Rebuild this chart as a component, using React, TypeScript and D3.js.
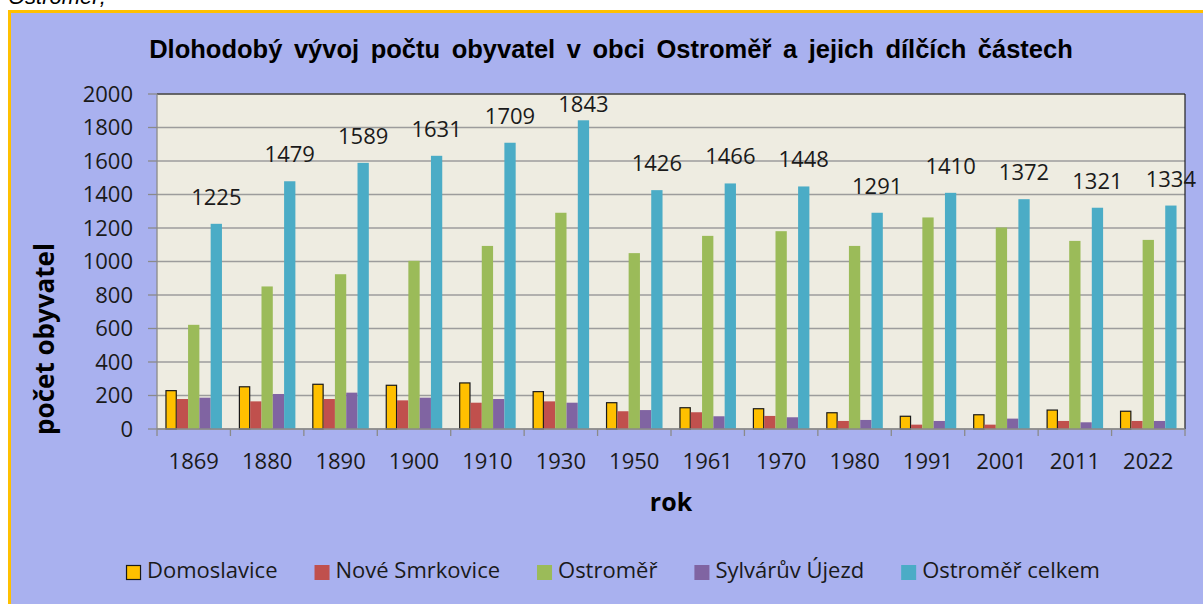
import React from "react";
import * as d3 from "d3";

const years = ["1869","1880","1890","1900","1910","1930","1950","1961","1970","1980","1991","2001","2011","2022"];
const seriesNames = ["Domoslavice","Nové Smrkovice","Ostroměř","Sylvárův Újezd","Ostroměř celkem"];
const domoslavice = [232,255,270,264,278,226,160,130,124,100,79,88,116,109];
const noveSmrkovice = [179,165,179,171,157,165,106,100,78,48,26,26,48,48];
const ostromer = [622,851,924,1004,1093,1291,1050,1153,1181,1093,1263,1203,1123,1129];
const sylvaruvUjezd = [187,209,217,187,179,157,113,76,70,54,48,62,40,48];
const celkem = [1225,1479,1589,1631,1709,1843,1426,1466,1448,1291,1410,1372,1321,1334];
const yTicks = [0,200,400,600,800,1000,1200,1400,1600,1800,2000];
const colors = ["#FFC000","#C0504D","#9BBB59","#8064A2","#4BACC6"];

const seriesValues = [domoslavice, noveSmrkovice, ostromer, sylvaruvUjezd, celkem];

const W = 1203, H = 604;
const plot = { left: 157, right: 1185, top: 94, bottom: 429 };
const FONT = "'Open Sans', sans-serif";

function measure(text: string, font: string) {
  const c = document.createElement("canvas").getContext("2d")!;
  c.font = font;
  return c.measureText(text).width;
}

export default function App() {
  const x0 = d3.scaleBand<string>().domain(years).range([plot.left, plot.right]).paddingInner(0).paddingOuter(0);
  const x1 = d3.scaleBand<string>().domain(seriesNames).range([0, x0.bandwidth()]).paddingInner(0).paddingOuter(0.75);
  const y = d3.scaleLinear().domain([0, 2000]).range([plot.bottom, plot.top]);

  // legend layout
  const legendFont = `22px ${FONT}`;
  const sq = 15, sqGap = 6, itemGap = 37;
  const widths = seriesNames.map((n) => measure(n, legendFont));
  const total = widths.reduce((a, w) => a + sq + sqGap + w, 0) + itemGap * (seriesNames.length - 1);
  let lx = 613 - total / 2;
  const legendItems = seriesNames.map((n, i) => {
    const item = { name: n, x: lx, color: colors[i] };
    lx += sq + sqGap + widths[i] + itemGap;
    return item;
  });

  const boundaries = [...years.map((yr) => x0(yr)!), plot.right];

  return (
    <svg width={W} height={H} style={{ position: "absolute", left: 0, top: 0, display: "block" }}>
      <rect x={0} y={0} width={W} height={H} fill="#ffffff" />
      <text x={8} y={4} fontFamily="'Liberation Sans', Arial, sans-serif" fontStyle="italic" fontSize={22} fill="#000">Ostroměř;</text>
      <rect x={9.5} y={11.5} width={W + 20} height={H + 20} fill="#A9B1EF" stroke="#FFC000" strokeWidth={3} />

      <text x={611} y={58} textAnchor="middle" fontFamily="'Liberation Sans', Arial, sans-serif" fontWeight="bold" fontSize={25.5} wordSpacing={4.5} fill="#000">
        Dlohodobý vývoj počtu obyvatel v obci Ostroměř a jejich dílčích částech
      </text>

      {/* plot area */}
      <rect x={plot.left} y={plot.top} width={plot.right - plot.left} height={plot.bottom - plot.top} fill="#EEECE1" />
      {yTicks.map((t) => (
        <line key={"g" + t} x1={plot.left} x2={plot.right} y1={y(t)} y2={y(t)} stroke="#9C9C9C" strokeWidth={1.3} />
      ))}
      <line x1={plot.left} x2={plot.right} y1={plot.top} y2={plot.top} stroke="#222" strokeWidth={1.2} />
      <line x1={plot.right} x2={plot.right} y1={plot.top} y2={plot.bottom} stroke="#222" strokeWidth={1.2} />

      {/* bars */}
      {seriesValues.map((vals, si) =>
        vals.map((v, i) => {
          const bx = x0(years[i])! + x1(seriesNames[si])!;
          const by = y(v);
          return (
            <rect
              key={si + "-" + i}
              x={si === 0 ? bx + 0.5 : bx}
              y={si === 0 ? by + 0.5 : by}
              width={si === 0 ? x1.bandwidth() - 1 : x1.bandwidth()}
              height={si === 0 ? y(0) - by - 0.5 : y(0) - by}
              fill={colors[si]}
              stroke={si === 0 ? "#1a1a1a" : "none"}
              strokeWidth={si === 0 ? 1.2 : 0}
            />
          );
        })
      )}

      {/* data labels */}
      {celkem.map((v, i) => {
        const cx = x0(years[i])! + x1(seriesNames[4])! + x1.bandwidth() / 2;
        const base = Math.max(y(v) - 19, plot.top + 18);
        return (
          <text key={"l" + i} x={cx} y={base} textAnchor="middle" fontFamily={FONT} fontSize={22} fill="#1a1a1a">{v}</text>
        );
      })}

      {/* axes */}
      <line x1={plot.left} x2={plot.left} y1={plot.top} y2={plot.bottom} stroke="#8A8A8A" strokeWidth={1.3} />
      <line x1={plot.left} x2={plot.right} y1={plot.bottom} y2={plot.bottom} stroke="#8A8A8A" strokeWidth={1.3} />
      {yTicks.map((t) => (
        <g key={"yt" + t}>
          <line x1={plot.left - 9} x2={plot.left} y1={y(t)} y2={y(t)} stroke="#8A8A8A" strokeWidth={1.3} />
          <text x={133} y={y(t)} dy="0.36em" textAnchor="end" fontFamily={FONT} fontSize={22} fill="#1a1a1a">{t}</text>
        </g>
      ))}
      {boundaries.map((bx, i) => (
        <line key={"xt" + i} x1={bx} x2={bx} y1={plot.bottom} y2={plot.bottom + 7} stroke="#8A8A8A" strokeWidth={1.3} />
      ))}
      {years.map((yr) => (
        <text key={"xl" + yr} x={x0(yr)! + x0.bandwidth() / 2} y={469} textAnchor="middle" fontFamily={FONT} fontSize={22} fill="#1a1a1a">{yr}</text>
      ))}

      <text x={(plot.left + plot.right) / 2} y={511} textAnchor="middle" fontFamily={FONT} fontWeight="bold" fontSize={25} fill="#000">rok</text>
      <text transform="translate(54,339) rotate(-90)" textAnchor="middle" fontFamily={FONT} fontWeight="bold" fontSize={26} fill="#000">počet obyvatel</text>

      {/* legend */}
      {legendItems.map((it, i) => (
        <g key={"lg" + i}>
          <rect x={i === 0 ? it.x + 0.5 : it.x} y={i === 0 ? 565.5 : 565} width={i === 0 ? sq - 1 : sq} height={i === 0 ? sq - 1 : sq} fill={it.color} stroke={i === 0 ? "#1a1a1a" : "none"} strokeWidth={1.2} />
          <text x={it.x + sq + sqGap} y={578} fontFamily={FONT} fontSize={22} fill="#1a1a1a">{it.name}</text>
        </g>
      ))}
    </svg>
  );
}
